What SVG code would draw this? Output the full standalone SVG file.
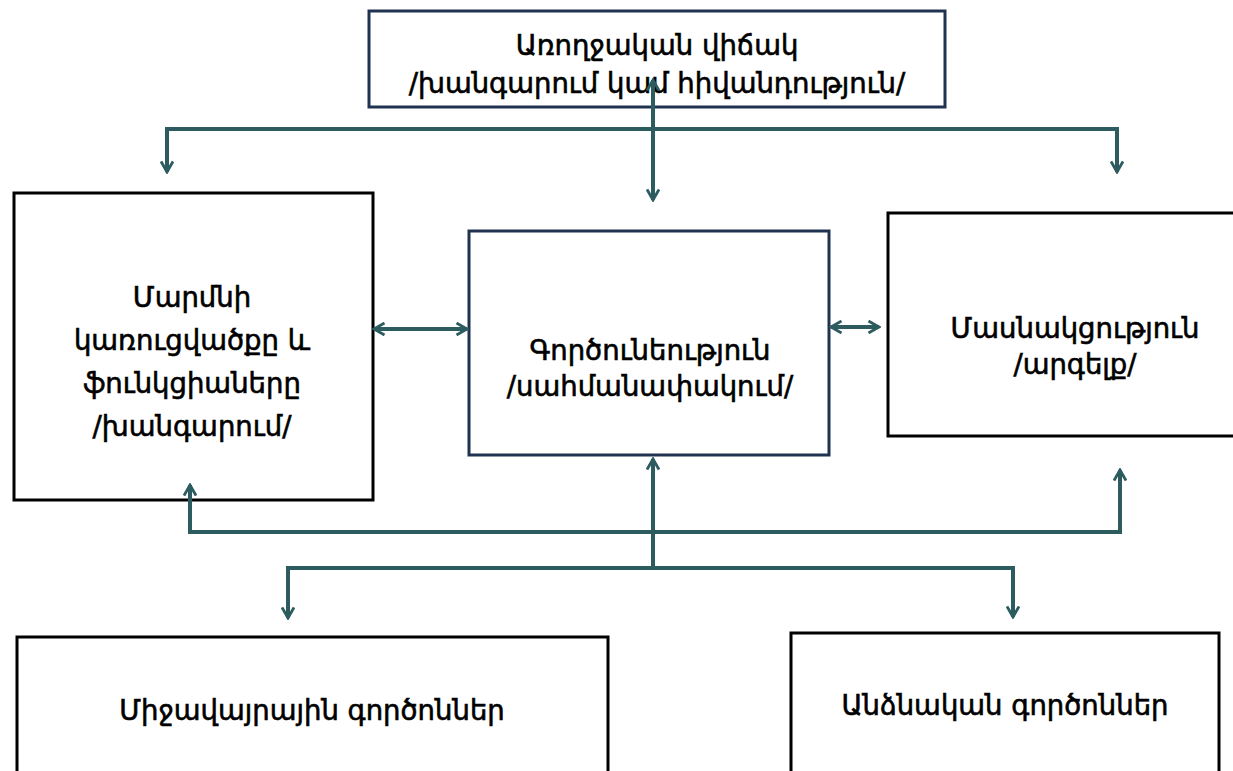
<svg xmlns="http://www.w3.org/2000/svg" width="1233" height="771" viewBox="0 0 1233 771">
<style>
.box{fill:#fff;stroke:#000;stroke-width:3}
.nbox{fill:#fff;stroke:#1f3350;stroke-width:3}
.t{font-family:"DejaVu Sans",sans-serif;font-size:27.5px;fill:#000;stroke:#000;stroke-width:0.6;text-anchor:middle}
.c{fill:none;stroke:#2c5b60;stroke-width:4;stroke-linejoin:miter}
</style>
<defs>
<marker id="ah" viewBox="0 0 14 14" refX="12" refY="7" markerWidth="14" markerHeight="14" markerUnits="userSpaceOnUse" orient="auto-start-reverse">
<path d="M1.5,1 L12,7 L1.5,13" fill="none" stroke="#2c5b60" stroke-width="2.8"/>
</marker>
</defs>
<g id="n-top"><rect class="nbox" x="369" y="11" width="576" height="96"/>
<text class="t" x="657" y="55">Առողջական վիճակ</text>
<text class="t" x="657" y="93">/խանգարում կամ հիվանդություն/</text></g>
<g id="n-body"><rect class="box" x="14" y="193" width="359" height="307"/>
<text class="t" x="192" y="307">Մարմնի</text>
<text class="t" x="192" y="350">կառուցվածքը և</text>
<text class="t" x="192" y="393">ֆունկցիաները</text>
<text class="t" x="192" y="436">/խանգարում/</text></g>
<g id="n-activity"><rect class="nbox" x="469" y="231" width="360" height="224"/>
<text class="t" x="650" y="360">Գործունեություն</text>
<text class="t" x="650" y="396">/սահմանափակում/</text></g>
<g id="n-part"><rect class="box" x="888" y="213" width="350" height="223"/>
<text class="t" x="1075" y="338">Մասնակցություն</text>
<text class="t" x="1075" y="374">/արգելք/</text></g>
<g id="n-env"><rect class="box" x="17" y="637" width="591" height="140"/>
<text class="t" x="312" y="720">Միջավայրային գործոններ</text></g>
<g id="n-pers"><rect class="box" x="791" y="633" width="428" height="144"/>
<text class="t" x="1005" y="715">Անձնական գործոններ</text></g>
<g id="connectors">
<polyline class="c" points="167,172 167,129 1117,129 1117,172" marker-start="url(#ah)" marker-end="url(#ah)"/>
<line class="c" x1="653" y1="80" x2="653" y2="200" marker-start="url(#ah)" marker-end="url(#ah)"/>
<line class="c" x1="374" y1="329" x2="467" y2="329" marker-start="url(#ah)" marker-end="url(#ah)"/>
<line class="c" x1="831" y1="327" x2="879" y2="327" marker-start="url(#ah)" marker-end="url(#ah)"/>
<polyline class="c" points="190,485 190,532 1120,532 1120,470" marker-start="url(#ah)" marker-end="url(#ah)"/>
<line class="c" x1="653" y1="567" x2="653" y2="459" marker-end="url(#ah)"/>
<polyline class="c" points="288,618 288,568 1013,568 1013,617" marker-start="url(#ah)" marker-end="url(#ah)"/>
</g>
</svg>
